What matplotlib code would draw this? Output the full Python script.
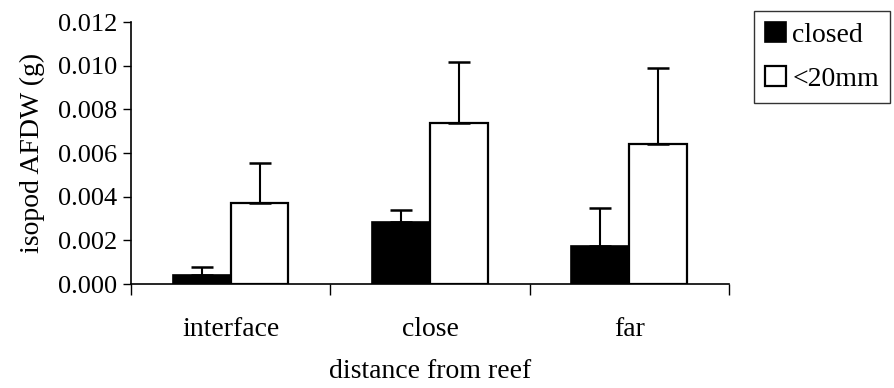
import numpy as np
import matplotlib
matplotlib.use("Agg")
from matplotlib import pyplot as plt

# values
sites = ["interface", "close", "far"]
closed_mean = [0.00043, 0.00284, 0.00175]
closed_top = [0.00079, 0.00339, 0.00348]
small_mean = [0.0037, 0.00739, 0.00641]
small_top = [0.00553, 0.01018, 0.00991]

plt.rcParams['font.family'] = ['Liberation Serif', 'DejaVu Serif']

fig = plt.figure(figsize=(8.95, 3.88), dpi=100)
ax = fig.add_axes([0.1464, 0.268, 0.668, 0.675])

x = np.arange(len(sites))
w = 0.29
closed_err = np.array(closed_top) - np.array(closed_mean)
small_err = np.array(small_top) - np.array(small_mean)

ax.bar(x - w/2, closed_mean, w, color='black', edgecolor='black', lw=1.2,
       yerr=[np.zeros(3), closed_err], capsize=8,
       error_kw=dict(elinewidth=1.5, capthick=1.8, ecolor='black'), label='closed', zorder=2)
ax.bar(x + w/2, small_mean, w, color='white', edgecolor='black', lw=1.6,
       yerr=[np.zeros(3), small_err], capsize=8,
       error_kw=dict(elinewidth=1.5, capthick=1.8, ecolor='black'), label='<20mm', zorder=2)

ax.set_xlim(-0.5, 2.5)
ax.set_ylim(0, 0.012)
ax.set_yticks(np.arange(0, 0.0121, 0.002))
ax.set_yticklabels([f"{v:.3f}" for v in np.arange(0, 0.0121, 0.002)])
ax.set_xticks(x)
ax.set_xticklabels(sites)
ax.tick_params(axis='x', length=0, pad=24, labelsize=20)
ax.set_xticks([-0.5, 0.5, 1.5, 2.5], minor=True)
ax.tick_params(axis='x', which='minor', length=8, width=1, direction='out')
ax.tick_params(axis='y', length=6, width=1, direction='out', labelsize=19, pad=4)

for s in ['top', 'right']:
    ax.spines[s].set_visible(False)
for s in ['left', 'bottom']:
    ax.spines[s].set_linewidth(1.2)

ax.set_ylabel("isopod AFDW (g)", fontsize=20, labelpad=9)
ax.set_xlabel("distance from reef", fontsize=20, labelpad=12)

leg = fig.legend(loc='upper left', bbox_to_anchor=(0.842, 0.972), fontsize=20,
                 frameon=True, fancybox=False, edgecolor='black', handlelength=0.75,
                 handleheight=0.75, handletextpad=0.25, labelspacing=0.65,
                 borderpad=0.4, borderaxespad=0)
leg.get_frame().set_linewidth(1.0)

fig.savefig("out.png", dpi=100)
